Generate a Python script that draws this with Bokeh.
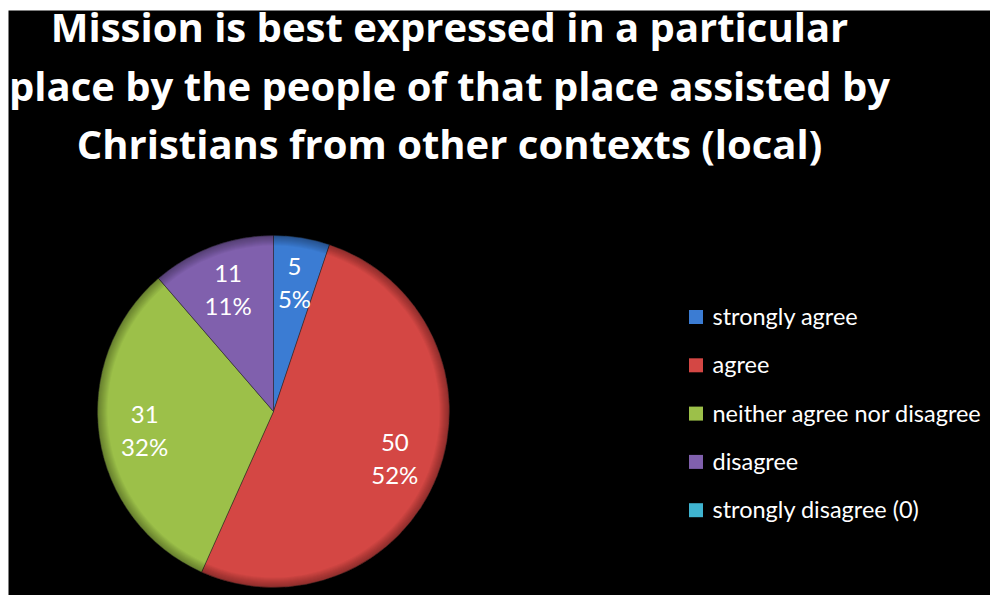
import math
from bokeh.plotting import figure
from bokeh.models import Range1d, ColumnDataSource
from bokeh.core.properties import value
from bokeh.embed import file_html
from bokeh.resources import INLINE

# ---- data ----
title_lines = [
    "Mission is best expressed in a particular",
    "place by the people of that place assisted by",
    "Christians from other contexts (local)",
]
categories = ["strongly agree", "agree", "neither agree  nor disagree",
              "disagree", "strongly disagree (0)"]
counts = [5, 50, 31, 11, 0]
percents = [5, 52, 32, 11, 0]
colors = ["#3B7CD3", "#D44744", "#9CC049", "#8060AD", "#3FB4D0"]

# ---- layout ----
W, H = 990, 595
LEFT, TOP = 8, 10
FONT = "Lato"
TITLE_FONT = "Open Sans"


def X(px):
    return px


def Y(py):
    return H - py


p = figure(width=W, height=H, x_range=Range1d(LEFT, W), y_range=Range1d(0, H - TOP),
           output_backend="svg", toolbar_location=None,
           min_border_left=LEFT, min_border_top=TOP, min_border_right=0,
           min_border_bottom=0,
           x_axis_type=None, y_axis_type=None,
           background_fill_color="black", border_fill_color="white",
           outline_line_color=None)
p.xgrid.visible = False
p.ygrid.visible = False

# ---- pie ----
cx, cy, R = X(273), Y(411), 176
total = sum(counts)
starts, ends, mids, cols, lab_v, lab_p = [], [], [], [], [], []
cum = 0
for c, pc, col in zip(counts, percents, colors):
    if c == 0:
        cum += c
        continue
    a0 = math.pi / 2 - 2 * math.pi * cum / total
    cum += c
    a1 = math.pi / 2 - 2 * math.pi * cum / total
    starts.append(a0)
    ends.append(a1)
    mids.append((a0 + a1) / 2)
    cols.append(col)
    lab_v.append(str(c))
    lab_p.append(f"{pc}%")

src = ColumnDataSource(dict(start=starts, end=ends, color=cols))
p.wedge(x=cx, y=cy, radius=R, start_angle="start", end_angle="end",
        direction="clock", fill_color="color", line_color="#222222",
        line_alpha=0.45, line_width=1, source=src)
# soft bevel-like shading near the rim
for dr in range(1, 11):
    p.annular_wedge(x=cx, y=cy, inner_radius=R - dr, outer_radius=R,
                    start_angle="start", end_angle="end", direction="clock",
                    fill_color="black", fill_alpha=0.035, line_color=None,
                    source=src)

# data labels
rl = 0.74 * R
lx = [cx + rl * math.cos(m) for m in mids]
ly = [cy + rl * math.sin(m) for m in mids]
lsrc = ColumnDataSource(dict(x=lx, y=ly, v=lab_v, p=lab_p))
p.text(x="x", y="y", text="v", source=lsrc, text_color="white",
       text_font=value(FONT), text_font_size="24px", text_align="center",
       text_baseline="middle", y_offset=-16)
p.text(x="x", y="y", text="p", source=lsrc, text_color="white",
       text_font=value(FONT), text_font_size="24px", text_align="center",
       text_baseline="middle", y_offset=16)

# ---- title ----
ty = [Y(26 + i * 58.5) for i in range(len(title_lines))]
p.text(x=[X(449)] * len(title_lines), y=ty, text=title_lines,
       text_color="white", text_font=value(TITLE_FONT), text_font_style="bold",
       text_font_size="40px", text_align="center", text_baseline="alphabetic")

# ---- legend ----
lgy = [Y(316.5 + i * 48.3) for i in range(len(categories))]
p.rect(x=[X(695.5)] * len(categories), y=lgy, width=14, height=14,
       fill_color=colors, line_color=None)
p.text(x=[X(712)] * len(categories), y=[v + 1 for v in lgy], text=categories,
       text_color="white", text_font=value(FONT), text_font_size="23.5px",
       text_align="left", text_baseline="middle")

open("out.html", "w").write(file_html(p, INLINE))
